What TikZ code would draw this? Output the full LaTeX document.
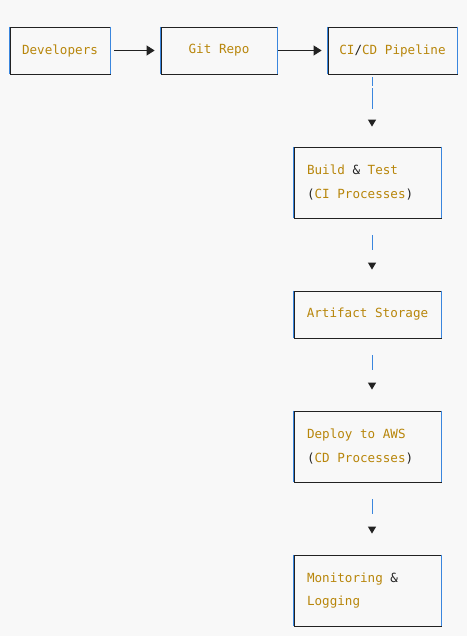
\documentclass[tikz,border=0pt]{standalone}
\usepackage{fontspec}
\usetikzlibrary{arrows.meta}
\newfontfamily\codefont[WordSpace={1,0,0}]{DejaVu Sans Mono}
\definecolor{fondo}{HTML}{F8F8F8}
\definecolor{texto}{HTML}{B8860B}
\definecolor{marco}{HTML}{222222}
\definecolor{lado}{HTML}{3A86DE}
\newcommand{\sig}[1]{\textcolor{marco}{#1}}
\newcommand{\linea}[1]{\mbox{\spaceskip=0pt\relax\xspaceskip=0pt\relax #1}}

\begin{document}
\begin{tikzpicture}[x=1pt,y=-1pt,
    caja/.style={draw=marco, line width=0.8pt, text=texto, inner sep=0pt,
        font=\codefont\fontsize{12.6}{23.5}\selectfont},
    doble/.style={caja, minimum height=71pt, text width=121pt, inner xsep=13pt, align=left},
    flecha/.style={marco, line width=0.8pt, -{Triangle[length=8pt,width=10pt]}},
    baja/.style={lado, line width=1pt, -{Triangle[length=7pt,width=8pt,color=marco]}}]
    % Fondo
    \fill[fondo] (0,0) rectangle (467,636);
    \useasboundingbox (0,0) rectangle (467,636);

    % Fila de arriba
    \node[caja, minimum width=100pt, minimum height=47pt] (dev) at (60,50.5) {Developers};
    \node[caja, minimum width=116pt, minimum height=47pt] (git) at (219,50.5) {Git Repo};
    \node[caja, minimum width=129pt, minimum height=47pt] (cicd) at (392.5,50.5) {CI\sig{/}CD Pipeline};

    % Columna
    \node[doble] (build) at (367.5,182.5) {\linea{Build \sig{\&} Test}\\\linea{\sig{(}CI Processes\sig{)}}};
    \node[caja, minimum width=147pt, minimum height=47pt] (art) at (367.5,314.5) {Artifact Storage};
    \node[doble] (deploy) at (367.5,446.5) {\linea{Deploy to AWS}\\\linea{\sig{(}CD Processes\sig{)}}};
    \node[doble] (mon) at (367.5,590.5) {\linea{Monitoring \sig{\&}}\\\linea{Logging}};

    % Lados
    \foreach \n in {dev,git,cicd,build,art,deploy,mon}
        \draw[lado, line width=1pt] (\n.north west) -- (\n.south west)
              (\n.north east) -- (\n.south east);

    % Flechas horizontales
    \draw[flecha, shorten <=4pt, shorten >=6pt] (dev) -- (git);
    \draw[flecha, shorten <=1pt, shorten >=6pt] (git) -- (cicd);

    % Flechas verticales
    \draw[baja, shorten <=3pt, shorten >=20pt, dash pattern=on 9pt off 2pt on 21pt off 40pt]
        (cicd.south -| 372,0) -- (build.north -| 372,0);
    \foreach \a/\b in {build/art, art/deploy, deploy/mon}
        \draw[baja, shorten <=17pt, shorten >=21pt, dash pattern=on 15pt off 40pt]
            (\a.south -| 372,0) -- (\b.north -| 372,0);
\end{tikzpicture}
\end{document}
